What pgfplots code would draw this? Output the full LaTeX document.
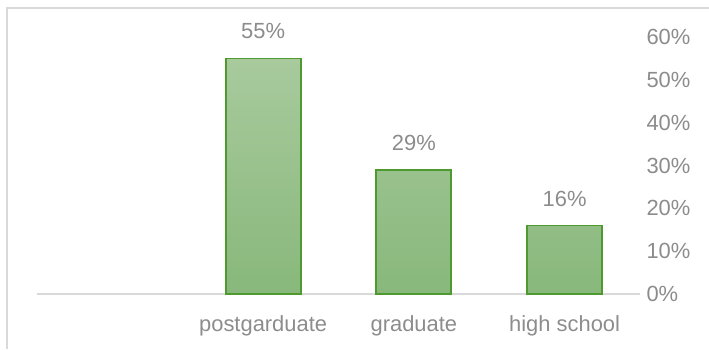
\documentclass[border=0pt]{standalone}
\usepackage{pgfplots}
\pgfplotsset{compat=1.18}
\usepackage{fontspec}
\setmainfont{Liberation Sans}
\definecolor{txtgray}{HTML}{8C8C8C}
\definecolor{axgray}{HTML}{D9D9D9}
\definecolor{barline}{HTML}{4E9A2E}
\definecolor{bartop}{HTML}{A8CA9D}
\definecolor{barbot}{HTML}{88B87B}
\begin{document}
\begin{tikzpicture}[x=1bp,y=1bp]
\useasboundingbox (0,0) rectangle (709,349);
\draw[axgray, line width=2bp] (7,0) -- (7,341) -- (712,341);
\begin{axis}[
  at={(37bp,55bp)}, anchor=south west,
  scale only axis, width=603bp, height=257bp,
  xmin=-0.5, xmax=3.5, ymin=0, ymax=60,
  axis x line=bottom, axis y line=right,
  x axis line style={axgray, line width=1.5bp, -},
  y axis line style={draw=none},
  xtick={1,2,3}, xticklabels={postgarduate,graduate,high school},
  ytick={0,10,...,60},
  yticklabel={\pgfmathprintnumber{\tick}\%},
  /pgf/number format/assume math mode=true,
  major tick length=0pt,
  tick label style={font=\fontsize{22}{25}\selectfont, text=txtgray},
  xticklabel style={yshift=-18bp},
  yticklabel style={anchor=west, xshift=3bp},
  ybar, bar width=75bp,
  nodes near coords={\pgfmathprintnumber{\pgfplotspointmeta}\%},
  nodes near coords style={font=\fontsize{22}{25}\selectfont, text=txtgray, yshift=15bp},
  clip=false,
]
\addplot[draw=barline, line width=1.8bp, top color=bartop, bottom color=barbot] coordinates {(1,55) (2,29) (3,16)};
\end{axis}
\end{tikzpicture}
\end{document}
